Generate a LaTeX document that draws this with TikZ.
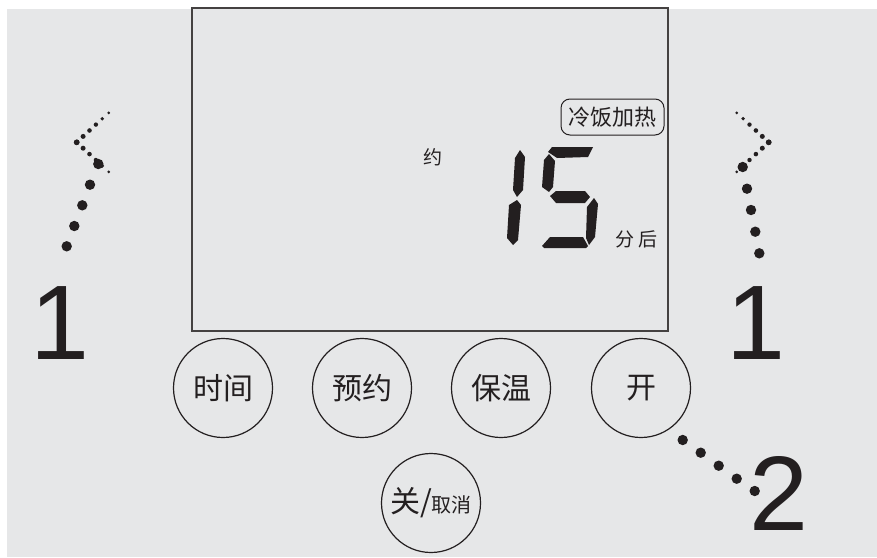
\documentclass[tikz,border=0pt]{standalone}
\usepackage{fontspec}
\setmainfont{Liberation Sans}
\newfontfamily\cjk{Noto Sans CJK SC}
\definecolor{panel}{HTML}{E6E7E8}
\definecolor{ink}{HTML}{231F20}
\tikzset{
  key/.style={circle, draw=ink, line width=1.2pt, minimum size=99pt, inner sep=0pt, text=ink, font=\cjk\fontsize{30}{30}\selectfont},
  lcdtext/.style={inner sep=0pt, text=ink, font=\cjk\fontsize{19}{19}\selectfont},
  seg/.style={fill=ink},
  marker/.style={inner sep=0pt, text=ink, anchor=base, font=\fontsize{106}{106}\selectfont},
}
\begin{document}
\begin{tikzpicture}[x=1pt, y=-1pt]
    \useasboundingbox (0,0) rectangle (877,557);
    \fill[panel] (7,9) rectangle (877,557);

    % Display
    \node (lcd) [draw=ink!85, line width=1.5pt, minimum width=476pt, minimum height=323pt, inner sep=0pt] at (430,169.5) {};
    \node (yue) [lcdtext] at (433,157) {约};
    \node (mode) [lcdtext, draw=ink, line width=1pt, rounded corners=9pt, minimum width=103pt, minimum height=36pt, font=\cjk\fontsize{22}{22}\selectfont] at (612.5,117) {冷饭加热};
    \node (unit) [lcdtext] at (636,239) {分\hspace{4pt}后};

    % Digit 1
    \fill[seg] (520,150) -- (525,157) -- (523,190) -- (517,197) -- (513,190) -- (515,158) -- cycle;
    \fill[seg] (517,200) -- (521,205) -- (518,240) -- (513,245) -- (507,238) -- (509,205) -- cycle;
    % Digit 5
    \fill[seg] (552,147) -- (593,147) -- (588,157) -- (557,158) -- (548,152) -- cycle;
    \fill[seg] (549,154) -- (555,161) -- (553,187) -- (549,192) -- (542,187) -- (544,160) -- cycle;
    \fill[seg] (550,196) -- (556,191) -- (585,191) -- (590,197) -- (585,203) -- (556,203) -- cycle;
    \fill[seg] (594,198) -- (598,204) -- (595,237) -- (589,245) -- (586,238) -- (587,207) -- cycle;
    \fill[seg] (542,246) -- (550,237) -- (583,237) -- (588,246) -- (586,248) -- (544,248) -- cycle;

    % Keys
    \node (shijian) [key] at (223,388) {时间};
    \node (yuyue) [key] at (362,388) {预约};
    \node (baowen) [key] at (501,388) {保温};
    \node (kai) [key] at (641,388) {开};
    \node (guan) [key] at (431,503) {关/{\fontsize{20}{20}\selectfont 取消}};

    % Markers
    \node (markL) [marker] at (59.5,359) {1};
    \node (markR) [marker] at (755.5,359) {1};
    \node (markB) [marker] at (779,530) {2};

    % Dots
    \foreach \x/\y in {98.3/164, 90/184.7, 82.3/205.3, 74.3/226, 66.7/246.3,
                       742.7/167, 747/188.7, 751/210, 755.3/231.7, 759.3/253.3,
                       682.7/440, 700.7/452.7, 718.7/465.7, 736.7/478.7, 754.7/491}
        \fill[ink] (\x,\y) circle (5.2pt);
    \foreach \d/\r in {0/2.8, 1/2.5, 2/2.3, 3/2.2, 4/1.9, 5/1.5} {
        \fill[ink] (76.7+6.4*\d, 142.3-5.9*\d) circle (\r pt);
        \fill[ink] (76.7+6.4*\d, 142.3+5.9*\d) circle (\r pt);
        \fill[ink] (768.7-6.4*\d, 142.3-5.9*\d) circle (\r pt);
        \fill[ink] (768.7-6.4*\d, 142.3+5.9*\d) circle (\r pt);
    }
\end{tikzpicture}
\end{document}
